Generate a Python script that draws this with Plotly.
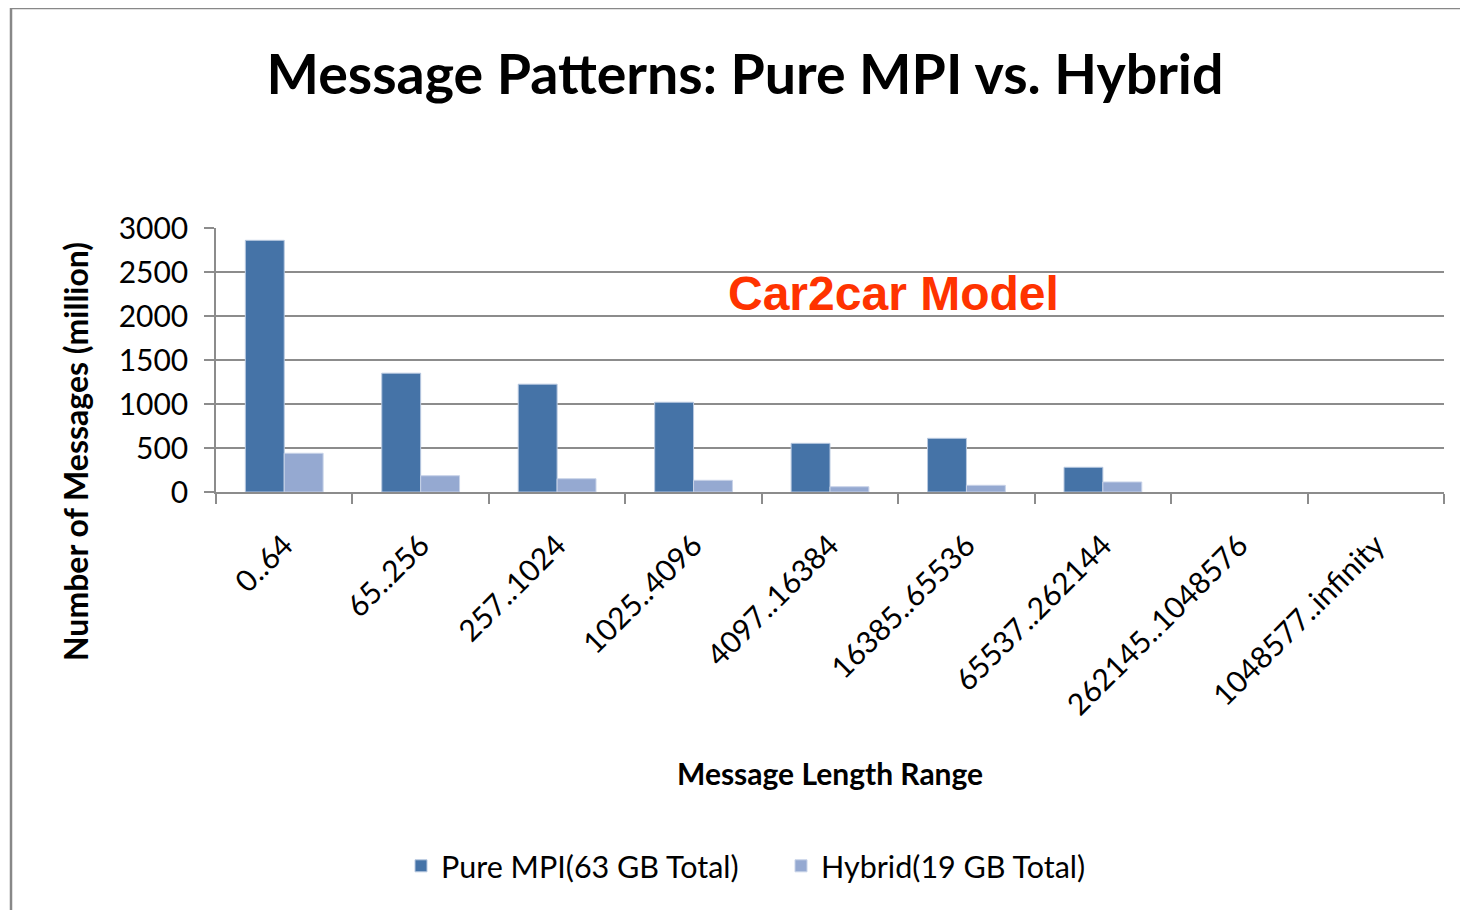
import plotly.graph_objects as go

categories = ["0..64", "65..256", "257..1024", "1025..4096", "4097..16384",
              "16385..65536", "65537..262144", "262145..1048576", "1048577..infinity"]
pure_mpi = [2860, 1350, 1225, 1020, 553, 610, 281, 0, 0]
hybrid = [440, 185, 151, 133, 60, 76, 114, 0, 0]
y_ticks = [0, 500, 1000, 1500, 2000, 2500, 3000]

FONT = "Lato, Calibri, sans-serif"
GRID = "#8c8c8c"

fig = go.Figure()
fig.add_trace(go.Bar(x=categories, y=pure_mpi, name="Pure MPI(63 GB Total)",
                     marker=dict(color="#4573A7",
                                 line=dict(color="#b9c9e0",
                                           width=[1 if v > 0 else 0 for v in pure_mpi]))))
fig.add_trace(go.Bar(x=categories, y=hybrid, name="Hybrid(19 GB Total)",
                     marker=dict(color="#95A9D1",
                                 line=dict(color="#c8d3e8",
                                           width=[1 if v > 0 else 0 for v in hybrid]))))

# page body offset of 8px compensated in margins
OFF = 8
W, H = 1468, 910
PL, PR, PT, PB = 216, 1444, 228, 492   # target plot area on screen
L = PL - OFF
T = PT - OFF
R = W - (PR - OFF)
B = H - (PB - OFF)
pw = PR - PL
ph = PB - PT

def px_x(p):
    return (p - PL) / pw

def px_y(p):
    return (PB - p) / ph

fig.update_layout(
    width=W, height=H,
    margin=dict(l=L, r=R, t=T, b=B),
    paper_bgcolor="white", plot_bgcolor="white",
    barmode="group", bargap=0.43, bargroupgap=0,
    font=dict(family=FONT, color="black"),
    title=dict(text="<b>Message Patterns: Pure MPI vs. Hybrid</b>",
               font=dict(family=FONT, size=55.5, color="black"),
               x=px_x(745), xref="paper", xanchor="center",
               y=1 - (75 - OFF) / H, yref="container", yanchor="middle"),
    legend=dict(orientation="h", x=px_x(401), xanchor="left",
                y=px_y(866), yanchor="middle",
                font=dict(family=FONT, size=30.5, color="black"),
                traceorder="normal", entrywidth=335, entrywidthmode="pixels"),
    showlegend=True,
)

fig.update_yaxes(range=[0, 3000], tickvals=y_ticks, showgrid=True,
                 gridcolor=GRID, gridwidth=1.5, showline=True, linecolor=GRID,
                 linewidth=1.5, ticks="outside", ticklen=10, tickcolor=GRID,
                 tickwidth=1.5, tickfont=dict(family=FONT, size=30, color="black"),
                 zeroline=False, ticklabelstandoff=10)
fig.update_xaxes(showline=True, linecolor=GRID, linewidth=1.5, ticks="outside",
                 ticklen=10, tickcolor=GRID, tickwidth=1.5, tickson="boundaries",
                 tickangle=-45, tickfont=dict(family=FONT, size=30, color="black"),
                 ticklabelstandoff=22)

fig.add_annotation(text="<b>Number of Messages (million)</b>", x=px_x(75), y=px_y(452),
                   xref="paper", yref="paper", showarrow=False, textangle=-90,
                   font=dict(family=FONT, size=32, color="black"),
                   xanchor="center", yanchor="middle")
fig.add_annotation(text="<b>Message Length Range</b>", x=px_x(830), y=px_y(773),
                   xref="paper", yref="paper", showarrow=False,
                   font=dict(family=FONT, size=30, color="black"),
                   xanchor="center", yanchor="middle")
fig.add_annotation(text="<b>Car2car Model</b>", x=px_x(893), y=px_y(293),
                   xref="paper", yref="paper", showarrow=False,
                   font=dict(family="Liberation Sans, Arial, sans-serif", size=48, color="#FF3300"),
                   xanchor="center", yanchor="middle")

fig.add_shape(type="rect", xref="paper", yref="paper",
              x0=px_x(11), x1=px_x(1500), y0=px_y(960), y1=px_y(8),
              line=dict(color="#888888", width=2.5), fillcolor="rgba(0,0,0,0)", layer="below")

fig.write_html("out.html")
